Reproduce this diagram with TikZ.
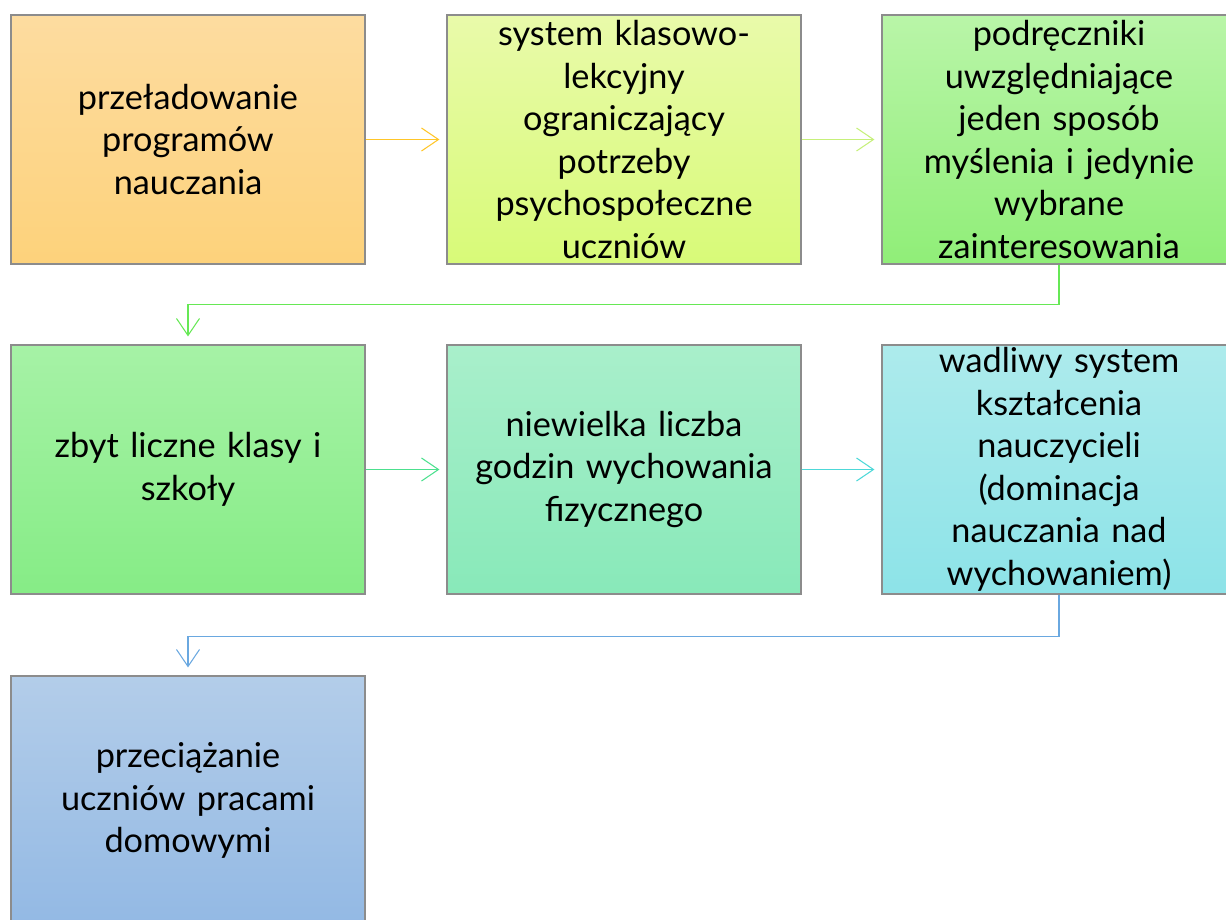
\documentclass[tikz,border=0pt]{standalone}
\usepackage{fontspec}
\setmainfont{Lato}
\usetikzlibrary{arrows.meta}

\definecolor{edgegray}{HTML}{8C8C8C}
\definecolor{orTop}{HTML}{FDDCA0}
\definecolor{orBot}{HTML}{FDD27B}
\definecolor{ygTop}{HTML}{E9FAAA}
\definecolor{ygBot}{HTML}{D8FA78}
\definecolor{lgTop}{HTML}{B9F5A8}
\definecolor{lgBot}{HTML}{90EE78}
\definecolor{gTop}{HTML}{A6F2A6}
\definecolor{gBot}{HTML}{86EC86}
\definecolor{mTop}{HTML}{A9EFCB}
\definecolor{mBot}{HTML}{88E9B9}
\definecolor{cTop}{HTML}{ADEBEC}
\definecolor{cBot}{HTML}{8DE3E8}
\definecolor{bTop}{HTML}{B3CDE9}
\definecolor{bBot}{HTML}{93B9E4}
\definecolor{arOr}{HTML}{FFC629}
\definecolor{arYg}{HTML}{C6F07A}
\definecolor{arGr}{HTML}{66E855}
\definecolor{arMi}{HTML}{4CE08E}
\definecolor{arCy}{HTML}{4DD8D8}
\definecolor{arBl}{HTML}{6AA8E0}

\begin{document}
\begin{tikzpicture}[x=0.02cm,y=-0.02cm,
    causebox/.style 2 args={draw=edgegray,line width=0.7pt,top color=#1,bottom color=#2,
      minimum width=7.08cm,minimum height=4.98cm,text width=6.9cm,align=center,
      inner sep=0pt,font=\fontsize{19.5}{24.2}\selectfont},
    link/.style={draw=#1,line width=0.6pt,-{Straight Barb[length=0.34cm,width=0.46cm]}}]
  \clip (0,0) rectangle (1226,919);
  % row 1
  \node[causebox={orTop}{orBot}] (przelad) at (188,139.5) {przeładowanie\\programów\\nauczania};
  \node[causebox={ygTop}{ygBot}] (klasowo) at (624,139.5) {system klasowo-\\lekcyjny\\ograniczający\\potrzeby\\psychospołeczne\\uczniów};
  \node[causebox={lgTop}{lgBot}] (podrecz) at (1059,139.5) {podręczniki\\uwzględniające\\jeden sposób\\myślenia i jedynie\\wybrane\\zainteresowania};
  % row 2
  \node[causebox={gTop}{gBot}] (klasy) at (188,469.5) {zbyt liczne klasy i\\szkoły};
  \node[causebox={mTop}{mBot}] (wfgodz) at (624,469.5) {niewielka liczba\\godzin wychowania\\fizycznego};
  \node[causebox={cTop}{cBot}] (ksztalc) at (1059,469.5) {wadliwy system\\kształcenia\\nauczycieli\\(dominacja\\nauczania nad\\wychowaniem)};
  % row 3
  \node[causebox={bTop}{bBot}] (prace) at (188,800.5) {przeciążanie\\uczniów pracami\\domowymi};

  \draw[link=arOr,shorten >=0.14cm] (przelad) -- (klasowo);
  \draw[link=arYg,shorten >=0.14cm] (klasowo) -- (podrecz);
  \draw[link=arGr,shorten >=0.16cm] (podrecz.south) -- ++(0,40) -| (klasy.north);
  \draw[link=arMi,shorten >=0.14cm] (klasy) -- (wfgodz);
  \draw[link=arCy,shorten >=0.14cm] (wfgodz) -- (ksztalc);
  \draw[link=arBl,shorten >=0.16cm] (ksztalc.south) -- ++(0,42) -| (prace.north);
\end{tikzpicture}
\end{document}
